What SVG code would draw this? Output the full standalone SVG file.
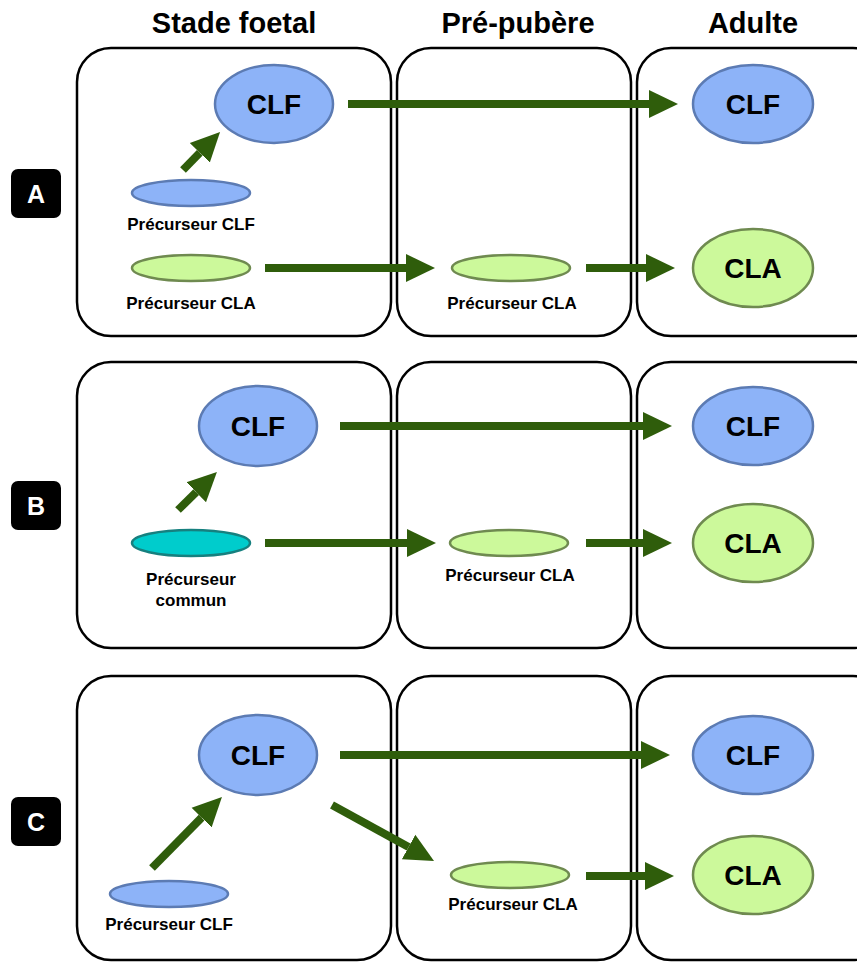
<svg xmlns="http://www.w3.org/2000/svg" width="857" height="963" viewBox="0 0 857 963">
<style>
.hdr{font-family:"Liberation Sans",Arial,sans-serif;font-weight:bold;font-size:29px;fill:#000;text-anchor:middle}
.box{fill:none;stroke:#000;stroke-width:2.5}
.tag{fill:#000}
.tagt{font-family:"Liberation Sans",Arial,sans-serif;font-weight:bold;font-size:25px;fill:#fff;text-anchor:middle}
.clf{fill:#8db3f8;stroke:#5c7bb3;stroke-width:2.5}
.cla{fill:#ccf99b;stroke:#6f8a50;stroke-width:2.5}
.com{fill:#00cccc;stroke:#16807f;stroke-width:2.5}
.big{font-family:"Liberation Sans",Arial,sans-serif;font-weight:bold;font-size:28px;fill:#000;text-anchor:middle}
.lbl{font-family:"Liberation Sans",Arial,sans-serif;font-weight:bold;font-size:17px;fill:#000;text-anchor:middle}
.arr{fill:none;stroke:#2f5d0b;stroke-width:8;marker-end:url(#ah)}
</style>
<defs>
<marker id="ah" markerUnits="userSpaceOnUse" viewBox="0 -15 30 30" markerWidth="30" markerHeight="30" refX="0" refY="0" orient="auto">
<path d="M0,-14 L29,0 L0,14 z" fill="#2f5d0b"/>
</marker>
</defs>

<g id="headers">
<text class="hdr" x="234" y="33">Stade foetal</text>
<text class="hdr" x="518" y="33">Pré-pubère</text>
<text class="hdr" x="753" y="33">Adulte</text>
</g>

<g id="boxes">
<rect class="box" x="77" y="48" width="314" height="288" rx="34"/>
<rect class="box" x="397" y="48" width="234" height="288" rx="34"/>
<rect class="box" x="637" y="48" width="250" height="288" rx="34"/>
<rect class="box" x="77" y="362" width="314" height="286" rx="34"/>
<rect class="box" x="397" y="362" width="234" height="286" rx="34"/>
<rect class="box" x="637" y="362" width="250" height="286" rx="34"/>
<rect class="box" x="77" y="676" width="314" height="284" rx="34"/>
<rect class="box" x="397" y="676" width="234" height="284" rx="34"/>
<rect class="box" x="637" y="676" width="250" height="284" rx="34"/>
</g>

<g id="tagA"><rect class="tag" x="11" y="169" width="50" height="49" rx="7"/><text class="tagt" x="36" y="203">A</text></g>
<g id="tagB"><rect class="tag" x="11" y="481" width="50" height="49" rx="7"/><text class="tagt" x="36" y="515">B</text></g>
<g id="tagC"><rect class="tag" x="11" y="797" width="50" height="49" rx="7"/><text class="tagt" x="36" y="831">C</text></g>

<!-- Row A -->
<g id="A_clf_fetal"><ellipse class="clf" cx="274" cy="104" rx="59" ry="39"/><text class="big" x="274" y="114">CLF</text></g>
<g id="A_prec_clf"><ellipse class="clf" cx="191" cy="193" rx="59" ry="13"/><text class="lbl" x="191" y="230">Précurseur CLF</text></g>
<g id="A_prec_cla"><ellipse class="cla" cx="191" cy="268" rx="59" ry="13"/><text class="lbl" x="191" y="309">Précurseur CLA</text></g>
<g id="A_prec_cla_pp"><ellipse class="cla" cx="511" cy="268" rx="59" ry="13"/><text class="lbl" x="512" y="309">Précurseur CLA</text></g>
<g id="A_clf_ad"><ellipse class="clf" cx="753" cy="104" rx="60" ry="39"/><text class="big" x="753" y="114">CLF</text></g>
<g id="A_cla_ad"><ellipse class="cla" cx="753" cy="268" rx="60" ry="39"/><text class="big" x="753" y="278">CLA</text></g>

<!-- Row B -->
<g id="B_clf_fetal"><ellipse class="clf" cx="258" cy="426" rx="59" ry="40"/><text class="big" x="258" y="436">CLF</text></g>
<g id="B_prec_com"><ellipse class="com" cx="191" cy="543" rx="59" ry="13"/><text class="lbl" x="191" y="585">Précurseur</text><text class="lbl" x="191" y="606">commun</text></g>
<g id="B_prec_cla_pp"><ellipse class="cla" cx="509" cy="543" rx="59" ry="13"/><text class="lbl" x="510" y="581">Précurseur CLA</text></g>
<g id="B_clf_ad"><ellipse class="clf" cx="753" cy="426" rx="60" ry="39"/><text class="big" x="753" y="436">CLF</text></g>
<g id="B_cla_ad"><ellipse class="cla" cx="753" cy="543" rx="60" ry="39"/><text class="big" x="753" y="553">CLA</text></g>

<!-- Row C -->
<g id="C_clf_fetal"><ellipse class="clf" cx="258" cy="755" rx="59" ry="40"/><text class="big" x="258" y="765">CLF</text></g>
<g id="C_prec_clf"><ellipse class="clf" cx="169" cy="894" rx="59" ry="13"/><text class="lbl" x="169" y="930">Précurseur CLF</text></g>
<g id="C_prec_cla_pp"><ellipse class="cla" cx="510" cy="875" rx="59" ry="13"/><text class="lbl" x="513" y="910">Précurseur CLA</text></g>
<g id="C_clf_ad"><ellipse class="clf" cx="753" cy="755" rx="60" ry="39"/><text class="big" x="753" y="765">CLF</text></g>
<g id="C_cla_ad"><ellipse class="cla" cx="753" cy="875" rx="60" ry="39"/><text class="big" x="753" y="885">CLA</text></g>

<g id="connectors">
<path class="arr" d="M183,170 L199.8,152.8"/>
<path class="arr" d="M348,104 L649,104"/>
<path class="arr" d="M265,268 L406,268"/>
<path class="arr" d="M586,268 L646,268"/>

<path class="arr" d="M178,510 L196.2,492.2"/>
<path class="arr" d="M340,426 L643,426"/>
<path class="arr" d="M265,543 L407,543"/>
<path class="arr" d="M586,543 L643,543"/>

<path class="arr" d="M152,868 L201.6,817.6"/>
<path class="arr" d="M340,755 L641,755"/>
<path class="arr" d="M332,805 L408.6,847"/>
<path class="arr" d="M586,876 L645,876"/>
</g>
</svg>
